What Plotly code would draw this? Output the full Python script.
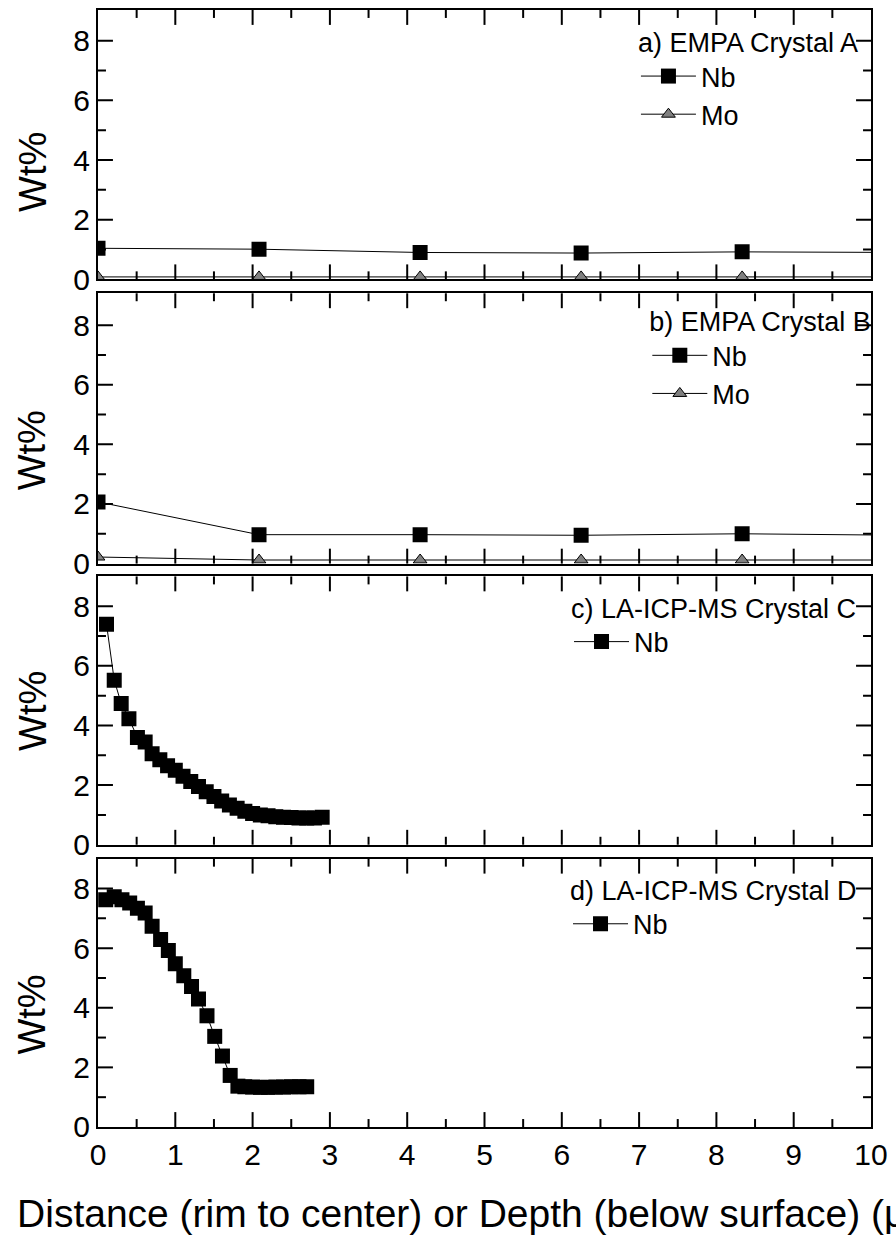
import plotly.graph_objects as go

# ---------------- data ----------------
EMPA_X = [0.0, 2.083, 4.167, 6.25, 8.333, 10.417]
A_NB = [1.04, 1.01, 0.90, 0.88, 0.92, 0.90]
A_MO = [0.08, 0.08, 0.08, 0.08, 0.08, 0.08]
B_NB = [2.07, 0.97, 0.97, 0.95, 1.00, 0.95]
B_MO = [0.22, 0.12, 0.12, 0.12, 0.12, 0.12]

C_X = [0.11, 0.21, 0.30, 0.40, 0.51, 0.61, 0.70, 0.80, 0.90, 1.00,
       1.10, 1.20, 1.30, 1.40, 1.50, 1.60, 1.70, 1.80, 1.90, 2.00,
       2.10, 2.20, 2.30, 2.40, 2.50, 2.60, 2.70, 2.80, 2.90]
C_NB = [7.40, 5.52, 4.74, 4.23, 3.60, 3.45, 3.05, 2.85, 2.65, 2.50,
        2.30, 2.12, 1.95, 1.78, 1.62, 1.47, 1.33, 1.22, 1.12, 1.05,
        1.00, 0.97, 0.94, 0.92, 0.91, 0.90, 0.90, 0.90, 0.92]

D_X = [0.10, 0.21, 0.31, 0.41, 0.51, 0.61, 0.70, 0.81, 0.91, 1.00,
       1.11, 1.21, 1.30, 1.41, 1.51, 1.61, 1.71, 1.81, 1.90, 2.00,
       2.10, 2.20, 2.30, 2.40, 2.50, 2.60, 2.70]
D_NB = [7.62, 7.72, 7.62, 7.51, 7.34, 7.18, 6.73, 6.29, 5.92, 5.48,
        5.07, 4.71, 4.29, 3.73, 3.04, 2.38, 1.73, 1.37, 1.35, 1.34,
        1.33, 1.33, 1.34, 1.34, 1.35, 1.35, 1.35]

PANEL_TITLES = ["a) EMPA Crystal A", "b) EMPA Crystal B",
                "c) LA-ICP-MS Crystal C", "d) LA-ICP-MS Crystal D"]
X_TITLE = "Distance (rim to center) or Depth (below surface) (μm)"
Y_TITLE = "Wt%"
Y_TICKS = [0, 2, 4, 6, 8]
Y_MINOR = [1, 3, 5, 7]
X_MAJOR = [1, 2, 3, 4, 5, 6, 7, 8, 9]
X_MINOR = [0.5, 1.5, 2.5, 3.5, 4.5, 5.5, 6.5, 7.5, 8.5, 9.5]

FONT = "Liberation Sans, Arial, sans-serif"

fig = go.Figure()

sq = dict(symbol="square", size=15, color="black", line=dict(color="black", width=0))
tri = dict(symbol="triangle-up", size=12, color="#808080", line=dict(color="black", width=1))
ln = dict(color="black", width=1)

fig.add_trace(go.Scatter(x=EMPA_X, y=A_NB, mode="lines+markers", name="Nb",
                         marker=sq, line=ln, xaxis="x", yaxis="y", legend="legend"))
fig.add_trace(go.Scatter(x=EMPA_X, y=A_MO, mode="lines+markers", name="Mo",
                         marker=tri, line=ln, xaxis="x", yaxis="y", legend="legend"))
fig.add_trace(go.Scatter(x=EMPA_X, y=B_NB, mode="lines+markers", name="Nb",
                         marker=sq, line=ln, xaxis="x2", yaxis="y2", legend="legend2"))
fig.add_trace(go.Scatter(x=EMPA_X, y=B_MO, mode="lines+markers", name="Mo",
                         marker=tri, line=ln, xaxis="x2", yaxis="y2", legend="legend2"))
fig.add_trace(go.Scatter(x=C_X, y=C_NB, mode="lines+markers", name="Nb",
                         marker=sq, line=ln, xaxis="x3", yaxis="y3", legend="legend3"))
fig.add_trace(go.Scatter(x=D_X, y=D_NB, mode="lines+markers", name="Nb",
                         marker=sq, line=ln, xaxis="x4", yaxis="y4", legend="legend4"))

ydomains = [[0.7589, 1.0], [0.5044, 0.7464], [0.2527, 0.4929], [0.0, 0.2402]]
yranges = [[0, 9.03], [0, 9.07], [0, 9.0], [0, 9.0]]
XRANGE = [0, 10]

W, H = 896, 1236
ML, MR, MT, MB = 98, 22, 8, 104
PLOT_W = W - ML - MR
PLOT_H = H - MT - MB
MAJOR_LEN, MINOR_LEN = 15, 8

layout = dict(
    width=W, height=H,
    margin=dict(l=ML, r=MR, t=MT, b=MB),
    paper_bgcolor="white", plot_bgcolor="white",
    font=dict(family=FONT, color="black"),
    showlegend=True,
)

shapes = []
tick_line = dict(color="black", width=2)

for i in range(4):
    s = "" if i == 0 else str(i + 1)
    xid, yid = "x" + s, "y" + s
    xa = dict(domain=[0, 1], anchor=yid, range=XRANGE, autorange=False,
              tickmode="linear", tick0=0, dtick=1, ticks="",
              showline=True, linewidth=2, linecolor="black", mirror=True,
              showgrid=False, zeroline=False,
              showticklabels=(i == 3), tickfont=dict(size=30, family=FONT))
    if i == 3:
        xa["title"] = dict(text=X_TITLE, font=dict(size=39, family=FONT), standoff=30)
    ya = dict(domain=ydomains[i], anchor=xid, range=yranges[i], autorange=False,
              tickmode="array", tickvals=Y_TICKS, ticks="",
              showline=True, linewidth=2, linecolor="black", mirror=True,
              showgrid=False, zeroline=False,
              tickfont=dict(size=30, family=FONT))
    layout["xaxis" + s] = xa
    layout["yaxis" + s] = ya

    # tick marks drawn inward on all four sides of the panel frame
    panel_h = (ydomains[i][1] - ydomains[i][0]) * PLOT_H
    for vals, length in ((X_MAJOR, MAJOR_LEN), (X_MINOR, MINOR_LEN)):
        f = length / panel_h
        for v in vals:
            shapes.append(dict(type="line", xref=xid, yref=yid + " domain",
                               x0=v, x1=v, y0=0, y1=f, line=tick_line, layer="above"))
            shapes.append(dict(type="line", xref=xid, yref=yid + " domain",
                               x0=v, x1=v, y0=1, y1=1 - f, line=tick_line, layer="above"))
    for vals, length in ((Y_TICKS[1:], MAJOR_LEN), (Y_MINOR, MINOR_LEN)):
        f = length / PLOT_W
        for v in vals:
            shapes.append(dict(type="line", xref=xid + " domain", yref=yid,
                               x0=0, x1=f, y0=v, y1=v, line=tick_line, layer="above"))
            shapes.append(dict(type="line", xref=xid + " domain", yref=yid,
                               x0=1, x1=1 - f, y0=v, y1=v, line=tick_line, layer="above"))

layout["shapes"] = shapes

leg_pos = [(0.987, 0.9938), (1.003, 0.7438), (0.9845, 0.4875), (0.9845, 0.2349)]
for i in range(4):
    key = "legend" if i == 0 else "legend" + str(i + 1)
    layout[key] = dict(x=leg_pos[i][0], y=leg_pos[i][1], xanchor="right", yanchor="top",
                       bgcolor="rgba(0,0,0,0)", borderwidth=0, itemwidth=55,
                       font=dict(size=27, family=FONT),
                       title=dict(text=PANEL_TITLES[i], side="top",
                                  font=dict(size=27, family=FONT)),
                       tracegroupgap=0)

ytitle_pos = [0.40, 0.42, 0.50, 0.42]
annotations = []
for i in range(4):
    s = "" if i == 0 else str(i + 1)
    annotations.append(dict(text=Y_TITLE, xref="paper", yref="y" + s + " domain",
                            x=-0.085, y=ytitle_pos[i], xanchor="center", yanchor="middle",
                            textangle=-90, showarrow=False,
                            font=dict(size=38, family=FONT)))
layout["annotations"] = annotations

fig.update_layout(**layout)
fig.write_html("out.html")
